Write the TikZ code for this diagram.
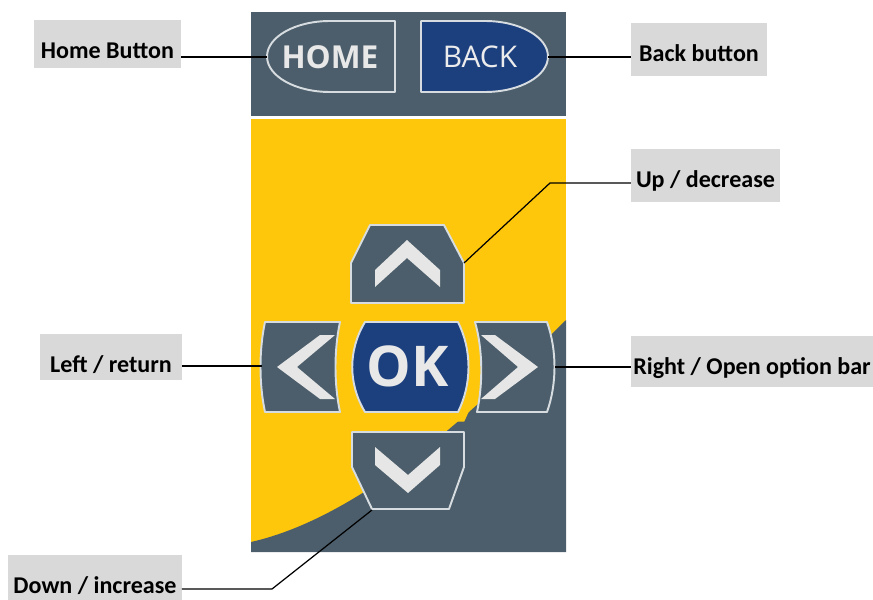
\documentclass[tikz,border=0pt]{standalone}
\usepackage{fontspec}
\newfontfamily\lblfont{Carlito}
\newfontfamily\keyfont{Open Sans}
\pgfdeclarelayer{bg}
\pgfsetlayers{bg,main}
\def\kprgb#1#2#3{rgb,255:red,#1;green,#2;blue,#3}

\tikzset{
  key/.style={fill=\kprgb{76}{94}{107},draw=\kprgb{214}{220}{224},line width=1.1pt,line join=round},
  chev/.style={fill=\kprgb{230}{230}{230}},
  lbl/.style={fill=\kprgb{217}{217}{217},inner sep=0pt,anchor=base,text height=21.5pt,
    font=\lblfont\bfseries\fontsize{13.7}{15}\selectfont},
  wire/.style={draw=black,line width=0.7pt},
}

\begin{document}
\begin{tikzpicture}[x=0.02cm,y=-0.02cm]
\useasboundingbox (0,0) rectangle (873,599);

% Draw the panels...
\begin{pgfonlayer}{bg}
\fill[fill=\kprgb{76}{94}{107}] (251,12) rectangle (566,116);
\fill[fill=\kprgb{254}{199}{12}] (251,119) rectangle (566,552);
\fill[fill=\kprgb{76}{94}{107}] (251,542) .. controls (370,515) and (490,395) .. (566,320) -- (566,552) -- (251,552) -- cycle;
\end{pgfonlayer}

% Draw the keys...
\draw[key] (395,21) -- (330,21) arc[start angle=90,end angle=270,x radius=1.26cm,y radius=0.71cm] -- (395,92) -- cycle;
\draw[key,fill=\kprgb{28}{63}{126}] (421,21) -- (485,21) arc[start angle=90,end angle=-90,x radius=1.26cm,y radius=0.71cm] -- (421,92) -- cycle;

\draw[key] (351,303) -- (351,263) -- (370,225) -- (444,225) -- (464,263) -- (464,303) -- cycle;
\fill[chev] (375,287) -- (375,270) -- (407,240) -- (440,270) -- (440,287) -- (407,258) -- cycle;

\draw[key,fill=\kprgb{28}{63}{126},preaction={draw=\kprgb{254}{199}{12},line width=11pt}] (365,322) -- (458,322) .. controls (472,350) and (472,384) .. (458,412) -- (365,412) .. controls (348,384) and (348,350) .. (365,322) -- cycle;

\draw[key] (265,322) -- (340,322) .. controls (334,350) and (334,384) .. (340,412) -- (265,412) .. controls (259,384) and (259,350) .. (265,322) -- cycle;
\fill[chev] (277,367) -- (320,335) -- (335,335) -- (297,367) -- (335,399) -- (320,399) -- cycle;

\draw[key] (475,322) -- (547,322) .. controls (557,350) and (557,384) .. (547,412) -- (477,412) .. controls (483,384) and (483,350) .. (475,322) -- cycle;
\fill[chev] (538,367) -- (495,335) -- (481,335) -- (518,367) -- (481,399) -- (495,399) -- cycle;

\draw[key] (352,432) -- (464,432) -- (464,467) -- (449,509) -- (372,509) -- (352,467) -- cycle;
\fill[chev] (375,447) -- (375,465) -- (408,493) -- (440,465) -- (440,447) -- (408,475) -- cycle;

% Draw the key texts...
\node (home) at (330,57) [font=\keyfont\bfseries\fontsize{18}{20}\selectfont,text=\kprgb{232}{232}{232}] {HOME};
\node (back) at (480,57) [font=\keyfont\fontsize{17}{19}\selectfont,text=\kprgb{236}{236}{236}] {BACK};
\node (ok) at (408,366) [font=\keyfont\bfseries\fontsize{32}{34}\selectfont,text=\kprgb{232}{232}{232}] {OK};

% Draw the labels...
\node (homelbl) at (107.5,58) [lbl,minimum width=83.3pt,text depth=5.7pt] {Home Button};
\node (backlbl) at (699,61) [lbl,minimum width=77.1pt,text depth=8.5pt] {Back button};
\node (uplbl) at (705.5,187) [lbl,minimum width=84.5pt,text depth=8.5pt] {Up / decrease};
\node (rightlbl) at (752,374) [lbl,minimum width=137.2pt,text depth=7.4pt] {Right / Open option bar};
\node (leftlbl) at (111,372) [lbl,minimum width=80.5pt,text depth=4.5pt] {Left / return};
\node (downlbl) at (95,593) [lbl,minimum width=98.6pt,text depth=4pt] {Down / increase};

% Draw the edges...
\coordinate (homeL) at (267,57);
\coordinate (backR) at (548,57);
\coordinate (upR) at (464,263);
\coordinate (upK) at (550,183);
\coordinate (leftL) at (262,366);
\coordinate (rightR) at (555,367);
\coordinate (downB) at (372,510);
\coordinate (downK) at (272,589);

\draw[wire] (homeL) -- (homeL -| homelbl.east);
\draw[wire] (backR) -- (backR -| backlbl.west);
\draw[wire] (upR) -- (upK) -- (upK -| uplbl.west);
\draw[wire] (leftL) -- (leftL -| leftlbl.east);
\draw[wire] (rightR) -- (rightR -| rightlbl.west);
\draw[wire] (downB) -- (downK) -- (downK -| downlbl.east);

\end{tikzpicture}
\end{document}
